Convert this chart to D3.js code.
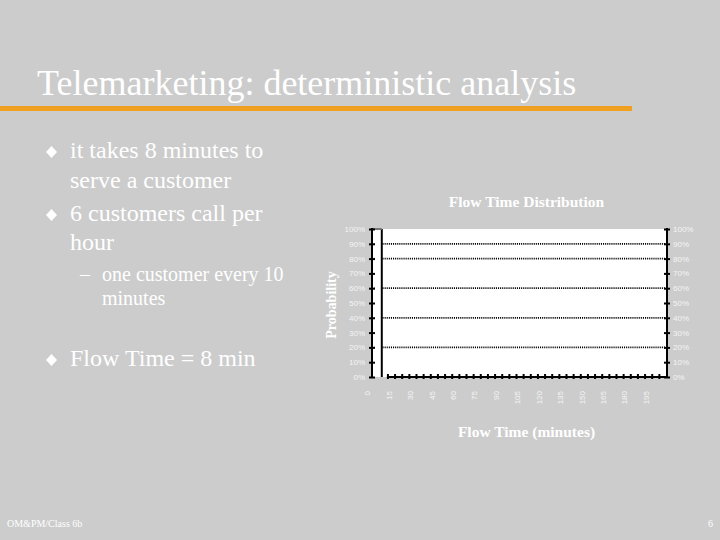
<!DOCTYPE html>
<html>
<head>
<meta charset="utf-8">
<script src="https://cdn.jsdelivr.net/npm/d3@7"></script>
<style>
  body { margin: 0; background: #cccccc; }
  svg { display: block; }
</style>
</head>
<body>
<svg id="slide"></svg>
<script>
// Flow time bins (minutes) and the probability of each bin
var flowTimes = [0, 5, 10, 15, 20, 25, 30, 35, 40, 45, 50, 55, 60, 65, 70, 75, 80, 85, 90, 95,
    100, 105, 110, 115, 120, 125, 130, 135, 140, 145, 150, 155, 160, 165, 170, 175, 180, 185,
    190, 195, 200, 205];
var probabilities = [0, 1, 0, 0, 0, 0, 0, 0, 0, 0, 0, 0, 0, 0, 0, 0, 0, 0, 0, 0,
    0, 0, 0, 0, 0, 0, 0, 0, 0, 0, 0, 0, 0, 0, 0, 0, 0, 0,
    0, 0, 0, 0];
var xLabels = [0, 15, 30, 45, 60, 75, 90, 105, 120, 135, 150, 165, 180, 195];
var yTicks = [0, 0.1, 0.2, 0.3, 0.4, 0.5, 0.6, 0.7, 0.8, 0.9, 1];
var gridLines = [0.2, 0.4, 0.6, 0.8, 0.9];

// Slide text
var titleText = "Telemarketing: deterministic analysis";
var bullets = [
    { level: 1, lines: ["it takes 8 minutes to", "serve a customer"], y: [158, 188] },
    { level: 1, lines: ["6 customers call per", "hour"], y: [221, 250] },
    { level: 2, lines: ["one customer every 10", "minutes"], y: [281, 305] },
    { level: 1, lines: ["Flow Time = 8 min"], y: [366] }
];

var W = 720, H = 540;
var svg = d3.select("#slide").attr("width", W).attr("height", H);

svg.append("rect").attr("width", W).attr("height", H).attr("fill", "#cccccc");

// Title and orange rule
svg.append("text")
    .attr("x", 37).attr("y", 95)
    .attr("font-family", "Liberation Serif")
    .attr("font-size", 36)
    .attr("fill", "#ffffff")
    .text(titleText);

svg.append("rect")
    .attr("x", 0).attr("y", 106)
    .attr("width", 632).attr("height", 5)
    .attr("fill", "#f0a020");

// Bullet list
bullets.forEach(function(b) {
    if (b.level === 1) {
        var cy = b.y[0] - 6;
        svg.append("path")
            .attr("d", "M51.5," + (cy - 6) + "L57," + cy + "L51.5," + (cy + 6) + "L46," + cy + "Z")
            .attr("fill", "#ffffff");
    } else {
        svg.append("text")
            .attr("x", 80).attr("y", b.y[0])
            .attr("font-family", "Liberation Serif").attr("font-size", 20)
            .attr("fill", "#ffffff")
            .text("\u2013");
    }
    b.lines.forEach(function(line, i) {
        svg.append("text")
            .attr("x", b.level === 1 ? 70 : 102)
            .attr("y", b.y[i])
            .attr("font-family", "Liberation Serif")
            .attr("font-size", b.level === 1 ? 24 : 20)
            .attr("fill", "#ffffff")
            .text(line);
    });
});

// Footer
svg.append("text")
    .attr("x", 7).attr("y", 527)
    .attr("font-family", "Liberation Serif").attr("font-size", 10)
    .attr("fill", "#ffffff")
    .text("OM&PM/Class 6b");
svg.append("text")
    .attr("x", 713).attr("y", 527)
    .attr("text-anchor", "end")
    .attr("font-family", "Liberation Serif").attr("font-size", 10)
    .attr("fill", "#ffffff")
    .text("6");

// Chart
var plotLeft = 372, plotRight = 667, plotTop = 229, plotBottom = 377;

var xScale = d3.scaleBand().domain(flowTimes).range([367.5, 667.5]).padding(0);
var yScale = d3.scaleLinear().domain([0, 1]).range([plotBottom, plotTop]);

var chart = svg.append("g");

chart.append("rect")
    .attr("x", plotLeft).attr("y", plotTop)
    .attr("width", plotRight - plotLeft).attr("height", plotBottom - plotTop)
    .attr("fill", "#ffffff");

// Dotted gridlines
chart.selectAll(".grid")
    .data(gridLines)
    .enter()
    .append("line")
    .attr("class", "grid")
    .attr("x1", plotLeft).attr("x2", plotRight)
    .attr("y1", function(d) { return yScale(d); })
    .attr("y2", function(d) { return yScale(d); })
    .attr("stroke", "#000")
    .attr("stroke-width", 1.8)
    .attr("stroke-dasharray", "1.1,1");

// Bars
var barData = flowTimes.map(function(t, i) { return { t: t, p: probabilities[i] }; });

chart.selectAll(".bar")
    .data(barData)
    .enter()
    .append("rect")
    .attr("class", "bar")
    .attr("x", function(d) { return xScale(d.t); })
    .attr("y", function(d) { return yScale(d.p); })
    .attr("width", xScale.bandwidth())
    .attr("height", function(d) { return yScale(0) - yScale(d.p); })
    .attr("fill", "#ffffff");

chart.selectAll(".bar-side")
    .data(barData.filter(function(d) { return d.p > 0; }))
    .enter()
    .append("path")
    .attr("class", "bar-side")
    .attr("d", function(d) {
        var x1 = xScale(d.t) + xScale.bandwidth();
        return "M" + x1 + "," + yScale(0) + "V" + yScale(d.p);
    })
    .attr("fill", "none")
    .attr("stroke", "#000")
    .attr("stroke-width", 2);

chart.selectAll(".bar-top")
    .data(barData.filter(function(d) { return d.p > 0; }))
    .enter()
    .append("path")
    .attr("class", "bar-top")
    .attr("d", function(d) {
        return "M" + plotLeft + "," + yScale(d.p) + "H" + (xScale(d.t) + xScale.bandwidth());
    })
    .attr("stroke", "#777")
    .attr("stroke-width", 2);

// Left and right value axes
var yFormat = d3.format(".0%");

var leftAxis = chart.append("g")
    .attr("transform", "translate(" + (plotLeft + 3) + ",0)")
    .call(d3.axisLeft(yScale).tickValues(yTicks).tickFormat(yFormat)
        .tickSize(6).tickPadding(4));
var rightAxis = chart.append("g")
    .attr("transform", "translate(" + (plotRight - 3) + ",0)")
    .call(d3.axisRight(yScale).tickValues(yTicks).tickFormat(yFormat)
        .tickSize(6).tickPadding(3));

[leftAxis, rightAxis].forEach(function(a) {
    a.select(".domain").remove();
    a.selectAll(".tick line").attr("stroke", "#000").attr("stroke-width", 2);
    a.selectAll(".tick text")
        .attr("font-family", "Liberation Sans")
        .attr("font-size", 8)
        .attr("fill", "#f4f4f4");
});

chart.append("line")
    .attr("x1", plotLeft).attr("x2", plotLeft)
    .attr("y1", plotTop - 1).attr("y2", plotBottom)
    .attr("stroke", "#000").attr("stroke-width", 2);
chart.append("line")
    .attr("x1", plotRight).attr("x2", plotRight)
    .attr("y1", plotTop - 1).attr("y2", plotBottom)
    .attr("stroke", "#000").attr("stroke-width", 2);

// Category axis
chart.append("line")
    .attr("x1", xScale(15) - 2).attr("x2", plotRight)
    .attr("y1", plotBottom).attr("y2", plotBottom)
    .attr("stroke", "#000").attr("stroke-width", 2);

chart.selectAll(".xtick")
    .data(flowTimes.filter(function(t) { return t >= 15; }))
    .enter()
    .append("line")
    .attr("class", "xtick")
    .attr("x1", function(d) { return xScale(d) - 1; })
    .attr("x2", function(d) { return xScale(d) - 1; })
    .attr("y1", plotBottom - 3).attr("y2", plotBottom + 2)
    .attr("stroke", "#000").attr("stroke-width", 2);

chart.selectAll(".xlabel")
    .data(xLabels)
    .enter()
    .append("text")
    .attr("class", "xlabel")
    .attr("transform", function(d) {
        return "translate(" + (xScale(d) + 2.8) + ",391) rotate(-90)";
    })
    .attr("text-anchor", "end")
    .attr("font-family", "Liberation Sans")
    .attr("font-size", 8)
    .attr("fill", "#f4f4f4")
    .text(function(d) { return d; });

// Chart titles
chart.append("text")
    .attr("x", 526.5).attr("y", 207)
    .attr("text-anchor", "middle")
    .attr("font-family", "Liberation Serif").attr("font-weight", "bold")
    .attr("font-size", 15.5)
    .attr("fill", "#ffffff")
    .text("Flow Time Distribution");

chart.append("text")
    .attr("x", 526.5).attr("y", 437)
    .attr("text-anchor", "middle")
    .attr("font-family", "Liberation Serif").attr("font-weight", "bold")
    .attr("font-size", 15.5)
    .attr("fill", "#ffffff")
    .text("Flow Time (minutes)");

chart.append("text")
    .attr("transform", "translate(336,305) rotate(-90)")
    .attr("text-anchor", "middle")
    .attr("font-family", "Liberation Serif").attr("font-weight", "bold")
    .attr("font-size", 14)
    .attr("fill", "#ffffff")
    .text("Probability");
</script>
</body>
</html>
